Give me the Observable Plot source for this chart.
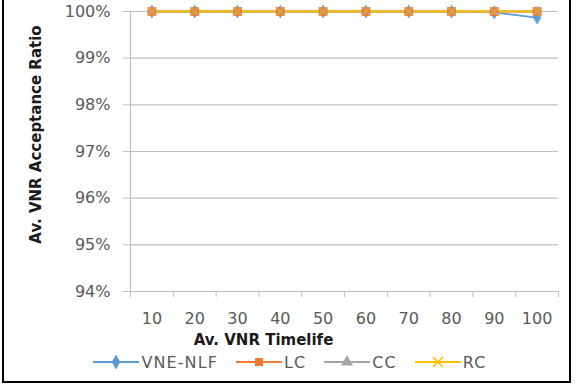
<!DOCTYPE html>
<html>
<head>
<meta charset="utf-8">
<script src="https://cdn.jsdelivr.net/npm/d3@7"></script>
<script src="https://cdn.jsdelivr.net/npm/@observablehq/plot@0.6"></script>
<style>
  html, body { margin: 0; padding: 0; background: #fff; }
  #wrap { position: relative; width: 580px; height: 388px; overflow: hidden; background: #fff; font-family: "DejaVu Sans", sans-serif; }
  #frame { position: absolute; left: 2px; top: -3px; width: 565px; height: 382px; border: 2px solid #000; box-sizing: content-box; pointer-events: none; }
  #legend { position: absolute; left: 0; top: 345px; width: 580px; height: 34px; display: flex; justify-content: center; align-items: center; gap: 18px; font-size: 16px; color: #595959; letter-spacing: 1.1px; }
  .item { display: flex; align-items: center; gap: 2px; }
  .item svg { display: block; }
</style>
</head>
<body>
<div id="wrap">
  <div id="chart"></div>
  <div id="legend"></div>
  <div id="frame"></div>
</div>
<script>
const timelife = [10, 20, 30, 40, 50, 60, 70, 80, 90, 100];
const tickEdges = [5, 15, 25, 35, 45, 55, 65, 75, 85, 95, 105];
const yTicks = [0.94, 0.95, 0.96, 0.97, 0.98, 0.99, 1.00];
const vneNlf = [1, 1, 1, 1, 1, 1, 1, 1, 0.9998, 0.9987];
const lc = [1, 1, 1, 1, 1, 1, 1, 1, 1, 1];
const cc = [1, 1, 1, 1, 1, 1, 1, 1, 1, 1];
const rc = [1, 1, 1, 1, 1, 1, 1, 1, 1, 1];
const seriesNames = ["VNE-NLF", "LC", "CC", "RC"];
const seriesColors = ["#5B9BD5", "#ED7D31", "#A5A5A5", "#FFC000"];
const seriesSymbols = ["diamond", "square", "triangle", "times"];
const seriesValues = [vneNlf, lc, cc, rc];

const data = [];
seriesNames.forEach((name, i) => {
  timelife.forEach((t, j) => data.push({series: name, x: t, y: seriesValues[i][j]}));
});

const marks = [
  Plot.ruleY(yTicks, {stroke: "#BFBFBF", strokeWidth: 1.2}),
  Plot.ruleX([tickEdges[0]], {stroke: "#BFBFBF", strokeWidth: 1.2}),
  Plot.axisY({ticks: yTicks, tickFormat: d3.format(".0%"), tickSize: 7, tickPadding: 13, stroke: "#BFBFBF", fill: "#595959", fontSize: 16, label: null}),
  Plot.axisX({ticks: tickEdges, tickFormat: () => "", tickSize: 6, stroke: "#BFBFBF", label: null}),
  Plot.axisX({ticks: timelife, tickSize: 0, tickPadding: 21, fill: "#595959", fontSize: 16, label: null}),
  Plot.text(["Av. VNR Acceptance Ratio"], {frameAnchor: "left", dx: -94, dy: -17, rotate: -90, fontSize: 15, fontWeight: "bold", fill: "#1a1a1a", textAnchor: "middle"}),
  Plot.text(["Av. VNR Timelife"], {frameAnchor: "bottom", dx: -81, dy: 49, fontSize: 15, fontWeight: "bold", fill: "#1a1a1a", lineAnchor: "middle"})
];

seriesNames.forEach((name, i) => {
  const d = data.filter(r => r.series === name);
  marks.push(Plot.line(d, {x: "x", y: "y", stroke: seriesColors[i], strokeWidth: 1.8}));
});
seriesNames.forEach((name, i) => {
  const d = data.filter(r => r.series === name);
  const sym = seriesSymbols[i];
  if (sym === "times") {
    marks.push(Plot.dot(d, {x: "x", y: "y", symbol: sym, r: 3.2, stroke: seriesColors[i], strokeWidth: 1, strokeOpacity: 0.8}));
  } else {
    marks.push(Plot.dot(d, {x: "x", y: "y", symbol: sym, r: sym === "square" ? 5 : 4.3, fill: seriesColors[i], stroke: "none", fillOpacity: sym === "triangle" ? 0.35 : 0.95}));
  }
});

const chart = Plot.plot({
  width: 580,
  height: 345,
  marginTop: 11,
  marginBottom: 54,
  marginLeft: 130,
  marginRight: 22,
  style: {fontFamily: "DejaVu Sans, sans-serif", background: "#fff", overflow: "visible"},
  x: {type: "linear", domain: [tickEdges[0], tickEdges[tickEdges.length - 1]]},
  y: {domain: [yTicks[0], yTicks[yTicks.length - 1]]},
  marks
});
document.getElementById("chart").appendChild(chart);

// Legend
const legend = document.getElementById("legend");
seriesNames.forEach((name, i) => {
  const item = document.createElement("div");
  item.className = "item";
  const sw = d3.create("svg").attr("width", 46).attr("height", 14);
  sw.append("line").attr("x1", 0).attr("x2", 46).attr("y1", 7).attr("y2", 7)
    .attr("stroke", seriesColors[i]).attr("stroke-width", 2);
  const symMap = {diamond: d3.symbolDiamond, square: d3.symbolSquare, triangle: d3.symbolTriangle, times: d3.symbolTimes};
  const path = d3.symbol(symMap[seriesSymbols[i]], Math.PI * 4.5 * 4.5)();
  const p = sw.append("path").attr("d", path).attr("transform", "translate(23,7)");
  if (seriesSymbols[i] === "times") p.attr("fill", "none").attr("stroke", seriesColors[i]).attr("stroke-width", 1.5);
  else p.attr("fill", seriesColors[i]);
  item.appendChild(sw.node());
  const label = document.createElement("span");
  label.textContent = name;
  item.appendChild(label);
  legend.appendChild(item);
});
</script>
</body>
</html>
